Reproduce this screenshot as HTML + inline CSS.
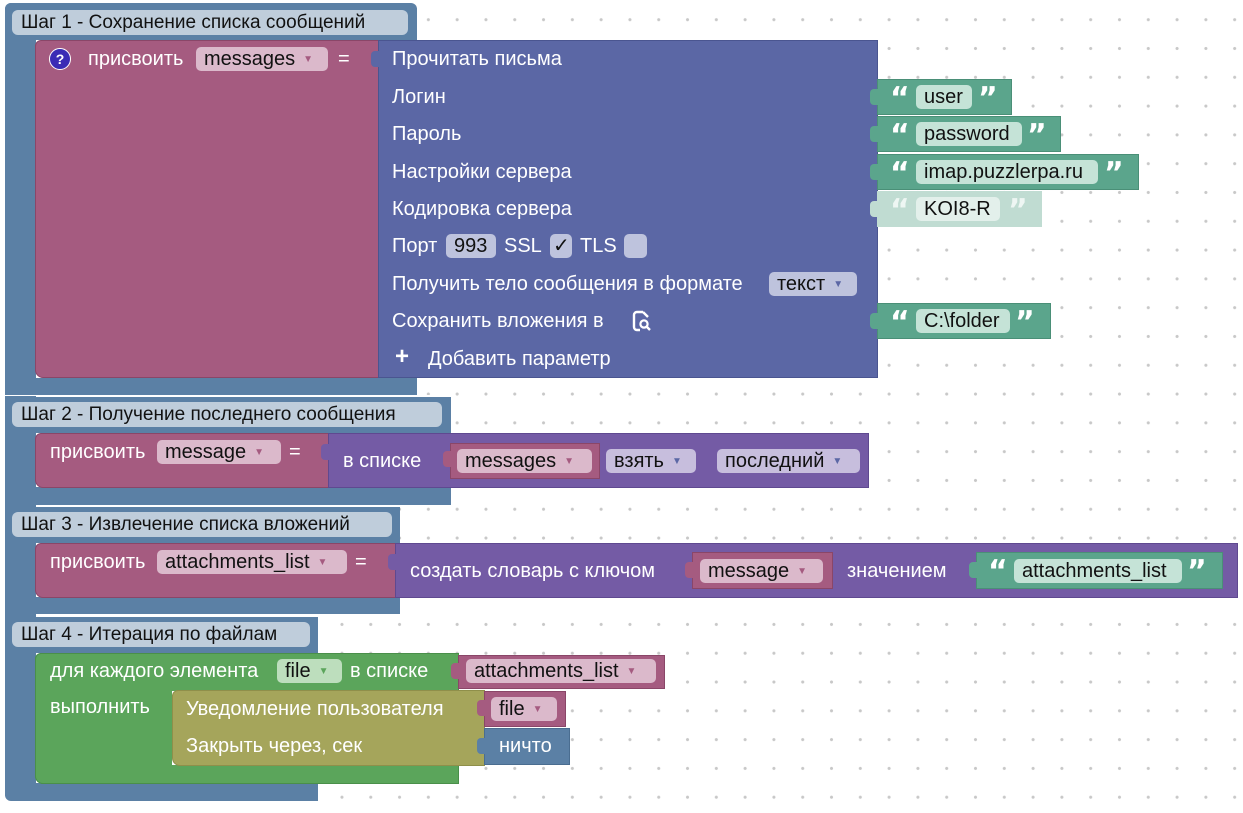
<!DOCTYPE html>
<html><head><meta charset="utf-8">
<style>
html,body{margin:0;padding:0}
body{width:1243px;height:813px;position:relative;overflow:hidden;background-color:#fff;
background-image:radial-gradient(circle at 14.4px 14.4px,#c8c8c8 1.3px,transparent 1.8px);
background-size:28.8px 28.8px;background-position:10.8px 5.3px;
font-family:"Liberation Sans",Roboto,sans-serif;font-size:20px;}
.a{position:absolute;box-sizing:border-box}
.blue{background:#5b80a5}
.pink{background:#a55b80;border:1px solid #8a4668}
.vio{background:#5b67a5;border:1px solid #4a5590}
.lst{background:#745ba5;border:1px solid #5f4990}
.str{background:#5ba58c;border:1px solid #4a8f77}
.dis{background:#c0dcd2}
.grn{background:#5ba55b;border:1px solid #4a8f4a}
.olv{background:#a5a55b;border:1px solid #8f8f4a}
.lbl{background:#bfcddb;border-radius:6px;color:#111;padding-left:9px;line-height:25px;height:25px;font-size:19px}
.t{position:absolute;color:#fff;white-space:nowrap;line-height:20px}
.f{position:absolute;border-radius:5px;color:#111;white-space:nowrap;line-height:24px;height:24px;padding-left:8px;box-sizing:border-box}
.fp{background:#dbb9cb}
.fs{background:#c5e3d7}
.fl{background:#c7bedd}
.fv{background:#bec3dd}
.fg{background:#bddebd}
.dd{font-size:10px;margin-left:8px;vertical-align:3px}
.fp .dd{color:#a55b80}.fl .dd,.fv .dd{color:#5b67a5}.fg .dd{color:#5ba55b}
.q{position:absolute;color:#fff;font-weight:bold;font-size:30px;font-family:"DejaVu Sans",sans-serif;line-height:30px}
.tab{position:absolute;width:8px;height:16px;border-radius:4px 0 0 4px}
</style></head><body>

<div class="a blue" style="left:5px;top:3px;width:412px;height:37px;border-radius:6px 6px 0 0"></div>
<div class="a blue" style="left:5px;top:3px;width:31px;height:797px;border-radius:6px 0 0 6px"></div>
<div class="a blue" style="left:5px;top:378px;width:412px;height:18px"></div>
<div class="a lbl" style="left:12px;top:10px;width:396px">Шаг 1 - Сохранение списка сообщений</div>

<div class="a" style="left:5px;top:395px;width:450px;height:1px;background:#fff"></div>
<div class="a blue" style="left:5px;top:397px;width:446px;height:36px"></div>
<div class="a blue" style="left:5px;top:487px;width:446px;height:18px"></div>
<div class="a lbl" style="left:12px;top:402px;width:430px">Шаг 2 - Получение последнего сообщения</div>

<div class="a blue" style="left:5px;top:507px;width:395px;height:36px"></div>
<div class="a blue" style="left:5px;top:597px;width:395px;height:17px"></div>
<div class="a lbl" style="left:12px;top:512px;width:380px">Шаг 3 - Извлечение списка вложений</div>

<div class="a blue" style="left:5px;top:617px;width:313px;height:36px"></div>
<div class="a blue" style="left:5px;top:783px;width:313px;height:18px;border-radius:0 0 0 6px"></div>
<div class="a lbl" style="left:12px;top:622px;width:298px">Шаг 4 - Итерация по файлам</div>

<!-- Step 1 -->
<div class="a pink" style="left:35px;top:40px;width:344px;height:338px;border-radius:6px 0 0 8px"></div>
<div class="a" style="left:49px;top:48px;width:22px;height:22px;border-radius:50%;background:#3b2bb5;border:1px solid #fff;color:#fff;font-weight:bold;font-size:14px;text-align:center;line-height:21px">?</div>
<div class="t" style="left:88px;top:49px">присвоить</div>
<div class="f fp" style="left:196px;top:47px;width:132px">messages<span class="dd">▼</span></div>
<div class="t" style="left:338px;top:49px">=</div>

<div class="a vio" style="left:378px;top:40px;width:500px;height:338px"></div>
<div class="tab" style="left:371px;top:51px;background:#5b67a5"></div>
<div class="t" style="left:392px;top:49px">Прочитать письма</div>
<div class="t" style="left:392px;top:87px">Логин</div>
<div class="t" style="left:392px;top:124px">Пароль</div>
<div class="t" style="left:392px;top:162px">Настройки сервера</div>
<div class="t" style="left:392px;top:199px">Кодировка сервера</div>
<div class="t" style="left:392px;top:236px">Порт</div>
<div class="f fv" style="left:446px;top:234px;width:50px">993</div>
<div class="t" style="left:504px;top:236px">SSL</div>
<div class="f fv" style="left:550px;top:234px;width:22px;padding-left:3px">✓</div>
<div class="t" style="left:580px;top:236px">TLS</div>
<div class="f fv" style="left:624px;top:234px;width:23px"></div>
<div class="t" style="left:392px;top:274px">Получить тело сообщения в формате</div>
<div class="f fv" style="left:769px;top:272px;width:88px">текст<span class="dd">▼</span></div>
<div class="t" style="left:392px;top:311px">Сохранить вложения в</div>
<svg class="a" style="left:631px;top:310px" width="22" height="22" viewBox="0 0 22 22"><path d="M12 2H6a3 3 0 0 0-3 3v12a3 3 0 0 0 3 3h3" fill="none" stroke="#fff" stroke-width="2.4"/><path d="M12 2l5 5" stroke="#fff" stroke-width="2.4"/><circle cx="13" cy="14" r="3.6" fill="none" stroke="#fff" stroke-width="2.2"/><path d="M15.5 16.5l3.5 3.5" stroke="#fff" stroke-width="2.4"/></svg>
<div class="t" style="left:395px;top:347px;font-weight:bold;font-size:24px">+</div>
<div class="t" style="left:428px;top:349px">Добавить параметр</div>

<!-- strings -->
<div class="a str" style="left:877px;top:79px;width:135px;height:36px"></div>
<div class="tab" style="left:870px;top:89px;background:#5ba58c"></div>
<div class="q" style="left:890px;top:84px">“</div><div class="f fs" style="left:916px;top:85px;width:56px">user</div><div class="q" style="left:978px;top:84px">”</div>

<div class="a str" style="left:877px;top:116px;width:184px;height:36px"></div>
<div class="tab" style="left:870px;top:126px;background:#5ba58c"></div>
<div class="q" style="left:890px;top:121px">“</div><div class="f fs" style="left:916px;top:122px;width:106px">password</div><div class="q" style="left:1027px;top:121px">”</div>

<div class="a str" style="left:877px;top:154px;width:262px;height:36px"></div>
<div class="tab" style="left:870px;top:164px;background:#5ba58c"></div>
<div class="q" style="left:890px;top:159px">“</div><div class="f fs" style="left:916px;top:160px;width:182px">imap.puzzlerpa.ru</div><div class="q" style="left:1104px;top:159px">”</div>

<div class="a dis" style="left:877px;top:191px;width:165px;height:36px"></div>
<div class="tab" style="left:870px;top:201px;background:#c0dcd2"></div>
<div class="q" style="left:890px;top:196px;color:#eef6f3">“</div><div class="f" style="left:916px;top:197px;width:84px;background:#e3f0eb">KOI8-R</div><div class="q" style="left:1008px;top:196px;color:#eef6f3">”</div>

<div class="a str" style="left:877px;top:303px;width:174px;height:36px"></div>
<div class="tab" style="left:870px;top:313px;background:#5ba58c"></div>
<div class="q" style="left:890px;top:308px">“</div><div class="f fs" style="left:916px;top:309px;width:94px">C:\folder</div><div class="q" style="left:1015px;top:308px">”</div>

<!-- Step 2 -->
<div class="a pink" style="left:35px;top:433px;width:294px;height:55px;border-radius:6px 0 0 8px"></div>
<div class="t" style="left:50px;top:442px">присвоить</div>
<div class="f fp" style="left:157px;top:440px;width:124px">message<span class="dd">▼</span></div>
<div class="t" style="left:289px;top:442px">=</div>
<div class="a lst" style="left:328px;top:433px;width:541px;height:55px"></div>
<div class="tab" style="left:321px;top:444px;background:#745ba5"></div>
<div class="t" style="left:343px;top:451px">в списке</div>
<div class="a pink" style="left:450px;top:443px;width:150px;height:36px"></div>
<div class="tab" style="left:443px;top:451px;background:#a55b80"></div>
<div class="f fp" style="left:457px;top:449px;width:135px">messages<span class="dd">▼</span></div>
<div class="f fl" style="left:606px;top:449px;width:90px">взять<span class="dd">▼</span></div>
<div class="f fl" style="left:717px;top:449px;width:143px">последний<span class="dd">▼</span></div>

<!-- Step 3 -->
<div class="a pink" style="left:35px;top:543px;width:361px;height:55px;border-radius:6px 0 0 8px"></div>
<div class="t" style="left:50px;top:552px">присвоить</div>
<div class="f fp" style="left:157px;top:550px;width:190px">attachments_list<span class="dd">▼</span></div>
<div class="t" style="left:355px;top:552px">=</div>
<div class="a lst" style="left:395px;top:543px;width:843px;height:55px"></div>
<div class="tab" style="left:388px;top:554px;background:#745ba5"></div>
<div class="t" style="left:410px;top:561px">создать словарь с ключом</div>
<div class="a pink" style="left:692px;top:552px;width:141px;height:37px"></div>
<div class="tab" style="left:685px;top:562px;background:#a55b80"></div>
<div class="f fp" style="left:700px;top:559px;width:123px">message<span class="dd">▼</span></div>
<div class="t" style="left:847px;top:561px">значением</div>
<div class="a str" style="left:976px;top:552px;width:247px;height:37px"></div>
<div class="tab" style="left:969px;top:562px;background:#5ba58c"></div>
<div class="q" style="left:988px;top:557px">“</div><div class="f fs" style="left:1014px;top:559px;width:168px">attachments_list</div><div class="q" style="left:1187px;top:557px">”</div>

<!-- Step 4 -->
<div class="a grn" style="left:35px;top:653px;width:424px;height:38px;border-radius:6px 0 0 0;border-bottom:none"></div>
<div class="a grn" style="left:35px;top:653px;width:137px;height:131px;border-radius:6px 0 0 8px;border-right:none"></div>
<div class="a grn" style="left:35px;top:765px;width:424px;height:19px;border-top:none;border-radius:0 0 0 8px"></div>
<div class="t" style="left:50px;top:661px">для каждого элемента</div>
<div class="f fg" style="left:277px;top:659px;width:65px">file<span class="dd">▼</span></div>
<div class="t" style="left:350px;top:661px">в списке</div>
<div class="t" style="left:50px;top:697px">выполнить</div>
<div class="a pink" style="left:458px;top:655px;width:207px;height:34px"></div>
<div class="tab" style="left:451px;top:663px;background:#a55b80"></div>
<div class="f fp" style="left:466px;top:659px;width:190px">attachments_list<span class="dd">▼</span></div>

<div class="a olv" style="left:172px;top:690px;width:313px;height:76px;border-radius:6px 0 0 8px"></div>
<div class="t" style="left:186px;top:699px">Уведомление пользователя</div>
<div class="t" style="left:186px;top:736px">Закрыть через, сек</div>
<div class="a pink" style="left:484px;top:691px;width:82px;height:36px"></div>
<div class="tab" style="left:477px;top:700px;background:#a55b80"></div>
<div class="f fp" style="left:491px;top:697px;width:66px">file<span class="dd">▼</span></div>
<div class="a" style="left:484px;top:728px;width:86px;height:37px;background:#5b80a5;border:1px solid #4a6d90"></div>
<div class="tab" style="left:477px;top:738px;background:#5b80a5"></div>
<div class="t" style="left:499px;top:736px">ничто</div>

</body></html>
